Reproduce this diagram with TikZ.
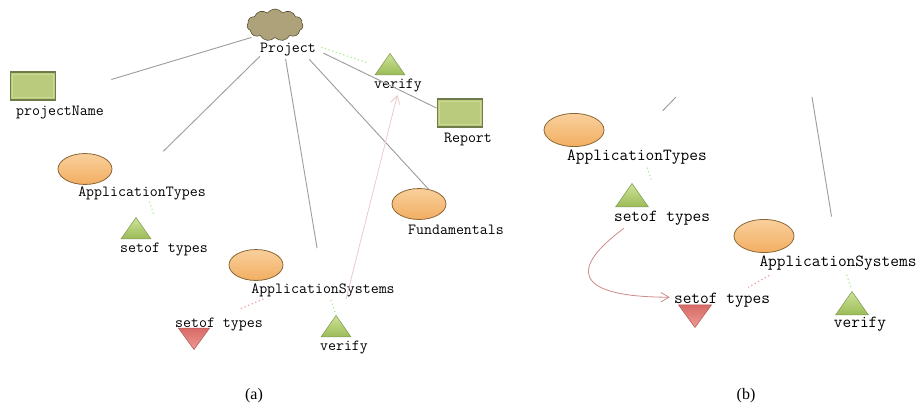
\documentclass[tikz,border=0pt]{standalone}
\usepackage{tikz}
\usepackage{xcolor}
\usepackage{fontspec}
\setmainfont{Liberation Serif}
\usetikzlibrary{shapes.geometric,shapes.symbols,arrows.meta}
\definecolor{link-grey}{HTML}{9E9E9E}
\definecolor{link-green}{HTML}{A8EC90}
\definecolor{link-red}{HTML}{F29A9A}
\definecolor{link-pink}{HTML}{EBCBCB}
\definecolor{link-curve}{HTML}{CF8A8A}
\definecolor{box-fill}{HTML}{BBCB7E}
\definecolor{box-edge}{HTML}{6E7C4A}
\definecolor{box-light}{HTML}{CBD992}
\definecolor{oval-top}{HTML}{F9D09C}
\definecolor{oval-low}{HTML}{F2AE62}
\definecolor{oval-edge}{HTML}{8A6636}
\definecolor{cloud-fill}{HTML}{AEA27A}
\definecolor{cloud-edge}{HTML}{4F4528}
\definecolor{tri-light}{HTML}{CDE396}
\definecolor{tri-dark}{HTML}{9CBB58}
\definecolor{tri-edge}{HTML}{7F9A55}
\definecolor{red-dark}{HTML}{D86A66}
\definecolor{red-light}{HTML}{EE9A94}
\definecolor{red-edge}{HTML}{B05A58}
\tikzset{
    term-label/.style = {inner sep=0pt, yshift=-1.2pt, font=\ttfamily\fontsize{11.6}{12}\selectfont},
    term-label-big/.style = {inner sep=0pt, yshift=-1.2pt, font=\ttfamily\fontsize{12.7}{13}\selectfont},
    caption-label/.style = {inner sep=0pt, font=\fontsize{12}{14}\selectfont},
    slot-box/.style = {rectangle, draw=box-edge, line width=1.2pt, fill=box-fill, inner sep=0pt, minimum width=34pt, minimum height=21pt,
        path picture={\draw [box-light, line width=.8pt] ([shift={(1.6pt,1.6pt)}]path picture bounding box.south west) rectangle ([shift={(-1.6pt,-1.6pt)}]path picture bounding box.north east);}},
    concept-oval/.style = {ellipse, draw=oval-edge, semithick, top color=oval-top, bottom color=oval-low, inner sep=0pt, minimum width=40.5pt, minimum height=23.2pt},
    concept-oval-big/.style = {concept-oval, minimum width=45pt, minimum height=24.8pt},
    up-tri/.style = {isosceles triangle, isosceles triangle apex angle=70, shape border rotate=90, draw=tri-edge, thin, top color=tri-light, bottom color=tri-dark, inner sep=0pt, minimum height=16pt, anchor=apex},
    up-tri-big/.style = {up-tri, minimum height=17.5pt},
    down-tri/.style = {isosceles triangle, isosceles triangle apex angle=72, shape border rotate=-90, draw=red-edge, thin, top color=red-dark, bottom color=red-light, inner sep=0pt, minimum height=16pt, anchor=apex},
    down-tri-big/.style = {down-tri, minimum height=17pt},
    plain-link/.style = {draw=link-grey, line width=.7pt},
    has-link/.style = {draw=link-green, dotted, line width=.9pt},
    inverse-link/.style = {draw=link-red, dotted, line width=.9pt},
    ref-link/.style = {draw=link-pink, line width=.6pt, -{Straight Barb[length=6pt,width=7pt]}},
}
\begin{document}
\begin{tikzpicture}[x=.75pt,y=-.75pt]
\useasboundingbox (0,0) rectangle (920,410);

\node [cloud, cloud puffs=11, cloud puff arc=110, aspect=1.8, draw=cloud-edge, fill=cloud-fill, inner sep=0pt, minimum width=42pt, minimum height=24pt] (cloud-a) at (275,25) {};
\node [term-label] (project-a) at (288,48) {Project};
\node [slot-box] (name-box-a) at (33,86) {};
\node [term-label] (name-a) at (60,111) {projectName};
\node [up-tri] (verify-top-a) at (390,53) {};
\node [term-label] (verify-top-label-a) at (398,84) {verify};
\node [slot-box] (report-box-a) at (460,113) {};
\node [term-label] (report-a) at (468,138) {Report};
\node [concept-oval] (types-oval-a) at (85,169) {};
\node [term-label] (types-a) at (142,192) {ApplicationTypes};
\node [up-tri] (setof-top-a) at (136,217) {};
\node [term-label] (setof-top-label-a) at (164,248) {setof types};
\node [concept-oval] (fund-oval-a) at (419,204) {};
\node [term-label] (fund-a) at (456,228) {Fundamentals};
\node [concept-oval] (systems-oval-a) at (256,265) {};
\node [term-label] (systems-a) at (323,289) {ApplicationSystems};
\node [term-label] (setof-low-label-a) at (219,323) {setof types};
\node [down-tri] (setof-low-a) at (194,350) {};
\node [up-tri] (verify-low-a) at (336,315) {};
\node [term-label] (verify-low-label-a) at (344,346) {verify};
\node [caption-label] (caption-a) at (254,396) {(a)};

\draw [plain-link, shorten <=3pt, shorten >=43pt] (cloud-a.south west) -- (name-box-a.-23);
\draw [plain-link, shorten >=38pt] (project-a.south west) -- (types-a.155);
\draw [plain-link, shorten <=2pt, shorten >=27pt] (project-a.-113) -- (systems-a.north);
\draw [plain-link, shorten <=3pt, shorten >=36pt] (project-a.-20) -- (fund-a.45);
\draw [plain-link, shorten <=6pt] (project-a.east) -- (report-box-a.168);
\draw [has-link, shorten <=4pt, shorten >=10pt] (project-a.8) -- (verify-top-a.west);
\draw [has-link, shorten <=1pt, shorten >=23pt] (types-a.-45) -- (setof-top-label-a.north);
\draw [inverse-link, shorten <=3pt, shorten >=16pt] (systems-a.-173) -- (setof-low-label-a.north);
\draw [has-link, shorten <=2pt] (systems-a.-45) -- (verify-low-a.apex);
\draw [ref-link, shorten <=17pt, shorten >=2pt] (verify-low-a.60) -- (verify-top-label-a.south);

\coordinate (project-left-b) at (676,97);
\coordinate (project-right-b) at (812,97);
\node [concept-oval-big] (types-oval-b) at (574,130) {};
\node [term-label-big] (types-b) at (637,156) {ApplicationTypes};
\node [up-tri-big] (setof-top-b) at (632,183) {};
\node [term-label-big] (setof-top-label-b) at (662,217) {setof types};
\node [concept-oval-big] (systems-oval-b) at (764,236) {};
\node [term-label-big] (systems-b) at (838,262) {ApplicationSystems};
\node [term-label-big] (setof-low-label-b) at (722,299) {setof types};
\node [down-tri-big] (setof-low-b) at (695,328) {};
\node [up-tri-big] (verify-b) at (852,291) {};
\node [term-label-big] (verify-label-b) at (860,323) {verify};
\node [caption-label] (caption-b) at (746,396) {(b)};

\draw [plain-link, shorten >=41pt] (project-left-b) -- (types-b.149);
\draw [plain-link, shorten >=30pt] (project-right-b) -- (systems-b.north);
\draw [has-link, shorten <=2pt, shorten >=25pt] (types-b.-39) -- (setof-top-label-b.north);
\draw [inverse-link, shorten <=6.7pt, shorten >=9pt] (systems-b.-173) -- (setof-low-label-b.25);
\draw [has-link, shorten <=3pt, shorten >=3pt] (systems-b.-45) -- (verify-b.apex);
\draw [draw=link-curve, line width=.6pt, shorten <=3pt, shorten >=3pt, -{Straight Barb[length=6pt,width=7pt]}] (setof-top-label-b.-168) .. controls (570,268) and (572,297) .. (setof-low-label-b.176);
\end{tikzpicture}
\end{document}
